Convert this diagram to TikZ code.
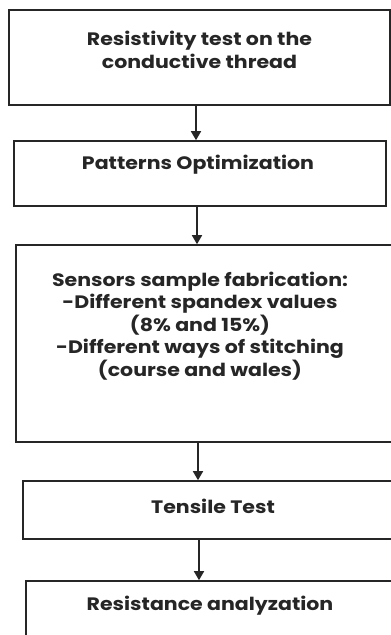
\documentclass[tikz,border=0pt]{standalone}
\usepackage{fontspec}
\setmainfont{Poppins}[BoldFeatures={FakeStretch=1.14}]
\usetikzlibrary{arrows.meta}
\begin{document}
\begin{tikzpicture}[x=1pt,y=-1pt,
  box/.style={draw=black!85,line width=1.6pt,rectangle,inner sep=0pt},
  lbl/.style={align=center,inner sep=0pt,font=\bfseries\fontsize{18}{22.5}\selectfont,text=black!85},
  arr/.style={draw=black!85,line width=1.6pt,-{Triangle[length=9pt,width=10pt]}}]
\useasboundingbox (0,0) rectangle (391,635);
\begin{scope}
\clip (0,0) rectangle (391,635);
\node[box,minimum width=381pt,minimum height=95pt] (b1) at (199.5,57.5) {};
\node[box,minimum width=372pt,minimum height=65pt] (b2) at (200,173.5) {};
\node[box,minimum width=384pt,minimum height=197pt] (b3) at (208,343.5) {};
\node[box,minimum width=380pt,minimum height=58pt] (b4) at (213,510) {};
\node[box,minimum width=380pt,minimum height=80pt] (b5) at (216,621) {};
\end{scope}
\node[lbl] (t1) at (199.5,50) {Resistivity test on the\\conductive thread};
\node[lbl] (t2) at (198,165) {Patterns Optimization};
\node[lbl] (t3) at (200,326) {Sensors sample fabrication:\\-Different spandex values\\(8\% and 15\%)\\-Different ways of stitching\\(course and wales)};
\node[lbl] (t4) at (213,506) {Tensile Test};
\node[lbl] (t5) at (210,606) {Resistance analyzation};
\draw[arr] ([xshift=-3.5pt]b1.south) -- ([xshift=-3.5pt]b1.south |- b2.north);
\draw[arr] ([xshift=-3pt]b2.south) -- ([xshift=-3pt]b2.south |- b3.north);
\draw[arr] ([xshift=-10pt]b3.south) -- ([xshift=-10pt]b3.south |- b4.north);
\draw[arr] ([xshift=-14pt]b4.south) -- ([xshift=-14pt]b4.south |- b5.north);
\end{tikzpicture}
\end{document}
